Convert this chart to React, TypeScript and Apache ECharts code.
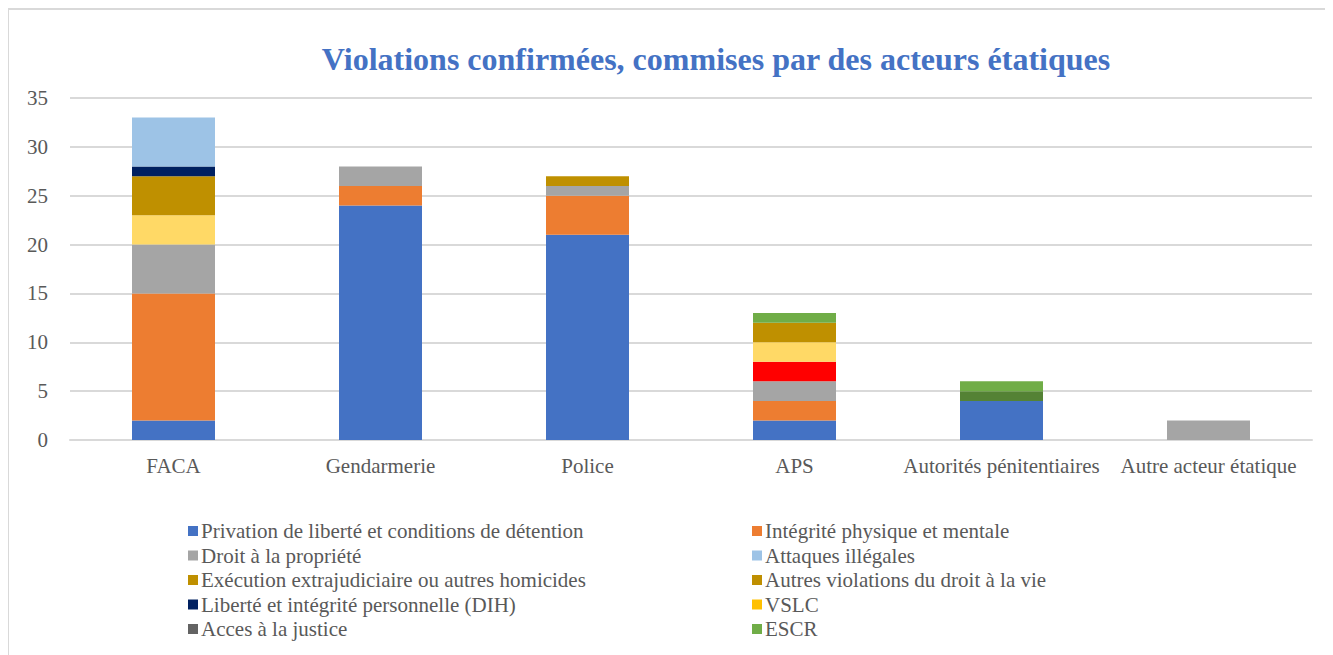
import React, { useEffect, useRef } from "react";
import * as echarts from "echarts";

const categories = ["FACA", "Gendarmerie", "Police", "APS", "Autorités pénitentiaires", "Autre acteur étatique"];

const privation = [2, 24, 21, 2, 4, 0];
const integrite = [13, 2, 4, 2, 0, 0];
const propriete = [5, 2, 1, 2, 0, 2];
const serieRouge = [0, 0, 0, 2, 0, 0];
const serieJaune = [3, 0, 0, 2, 0, 0];
const execution = [4, 0, 1, 2, 0, 0];
const autresViolations = [0, 0, 0, 0, 0, 0];
const liberte = [1, 0, 0, 0, 0, 0];
const attaques = [5, 0, 0, 0, 0, 0];
const vslc = [0, 0, 0, 0, 0, 0];
const acces = [0, 0, 0, 0, 0, 0];
const serieVertFonce = [0, 0, 0, 0, 1, 0];
const escr = [0, 0, 0, 1, 1, 0];

const yTicks = { min: 0, max: 35, interval: 5 };

const seriesDefs = [
  { name: "Privation de liberté et conditions de détention", data: privation, color: "#4472C4" },
  { name: "Intégrité physique et mentale", data: integrite, color: "#ED7D31" },
  { name: "Droit à la propriété", data: propriete, color: "#A5A5A5" },
  { name: "Série rouge", data: serieRouge, color: "#FF0000" },
  { name: "Série jaune", data: serieJaune, color: "#FFD966" },
  { name: "Exécution extrajudiciaire ou autres homicides", data: execution, color: "#BF9000" },
  { name: "Autres violations du droit à la vie", data: autresViolations, color: "#BF8F00" },
  { name: "Liberté et intégrité personnelle (DIH)", data: liberte, color: "#002060" },
  { name: "Attaques illégales", data: attaques, color: "#9DC3E6" },
  { name: "VSLC", data: vslc, color: "#FFC000" },
  { name: "Acces à la justice", data: acces, color: "#636363" },
  { name: "Série vert foncé", data: serieVertFonce, color: "#548235" },
  { name: "ESCR", data: escr, color: "#70AD47" },
];

const legendLeft = [
  "Privation de liberté et conditions de détention",
  "Droit à la propriété",
  "Exécution extrajudiciaire ou autres homicides",
  "Liberté et intégrité personnelle (DIH)",
  "Acces à la justice",
];
const legendRight = [
  "Intégrité physique et mentale",
  "Attaques illégales",
  "Autres violations du droit à la vie",
  "VSLC",
  "ESCR",
];

const FONT = "Liberation Serif";

export default function App() {
  const ref = useRef<HTMLDivElement>(null);
  useEffect(() => {
    if (!ref.current) return;
    const chart = echarts.init(ref.current, null, { renderer: "svg" });
    const legendCommon = {
      orient: "vertical" as const,
      top: 512,
      itemWidth: 10,
      itemHeight: 10,
      itemGap: 2.5,
      icon: "rect",
      textStyle: { fontFamily: FONT, fontSize: 21, color: "#595959", lineHeight: 22, padding: [0, 0, 0, -2] },
      padding: 0,
      selectedMode: false,
    };
    chart.setOption({
      animation: false,
      backgroundColor: "#ffffff",
      textStyle: { fontFamily: FONT },
      title: {
        text: "Violations confirmées, commises par des acteurs étatiques",
        left: 703,
        top: 30,
        textAlign: "center",
        textStyle: { fontFamily: FONT, fontSize: 32, fontWeight: "bold", color: "#4472C4" },
      },
      graphic: [
        {
          type: "rect",
          shape: { x: 0, y: 1, width: 1400, height: 700 },
          style: { fill: "none", stroke: "#d9d9d9", lineWidth: 2 },
          silent: true,
        },
      ],
      legend: [
        { ...legendCommon, left: 180, data: legendLeft },
        { ...legendCommon, left: 744, data: legendRight },
      ],
      grid: { left: 62, top: 90, width: 1242, height: 342, containLabel: false },
      xAxis: {
        type: "category",
        data: categories,
        axisTick: { show: false },
        axisLine: { lineStyle: { color: "#d9d9d9", width: 2 } },
        axisLabel: { fontFamily: FONT, fontSize: 21, color: "#595959", margin: 15, interval: 0 },
      },
      yAxis: {
        type: "value",
        min: yTicks.min,
        max: yTicks.max,
        interval: yTicks.interval,
        axisLine: { show: false },
        axisTick: { show: false },
        splitLine: { lineStyle: { color: "#d9d9d9", width: 2 } },
        axisLabel: { fontFamily: FONT, fontSize: 21, color: "#595959", margin: 22 },
      },
      series: seriesDefs.map((s) => ({
        type: "bar",
        name: s.name,
        stack: "total",
        data: s.data,
        barWidth: 83,
        itemStyle: { color: s.color },
      })),
    });
    return () => chart.dispose();
  }, []);
  return <div ref={ref} style={{ width: 1325, height: 647 }} />;
}
